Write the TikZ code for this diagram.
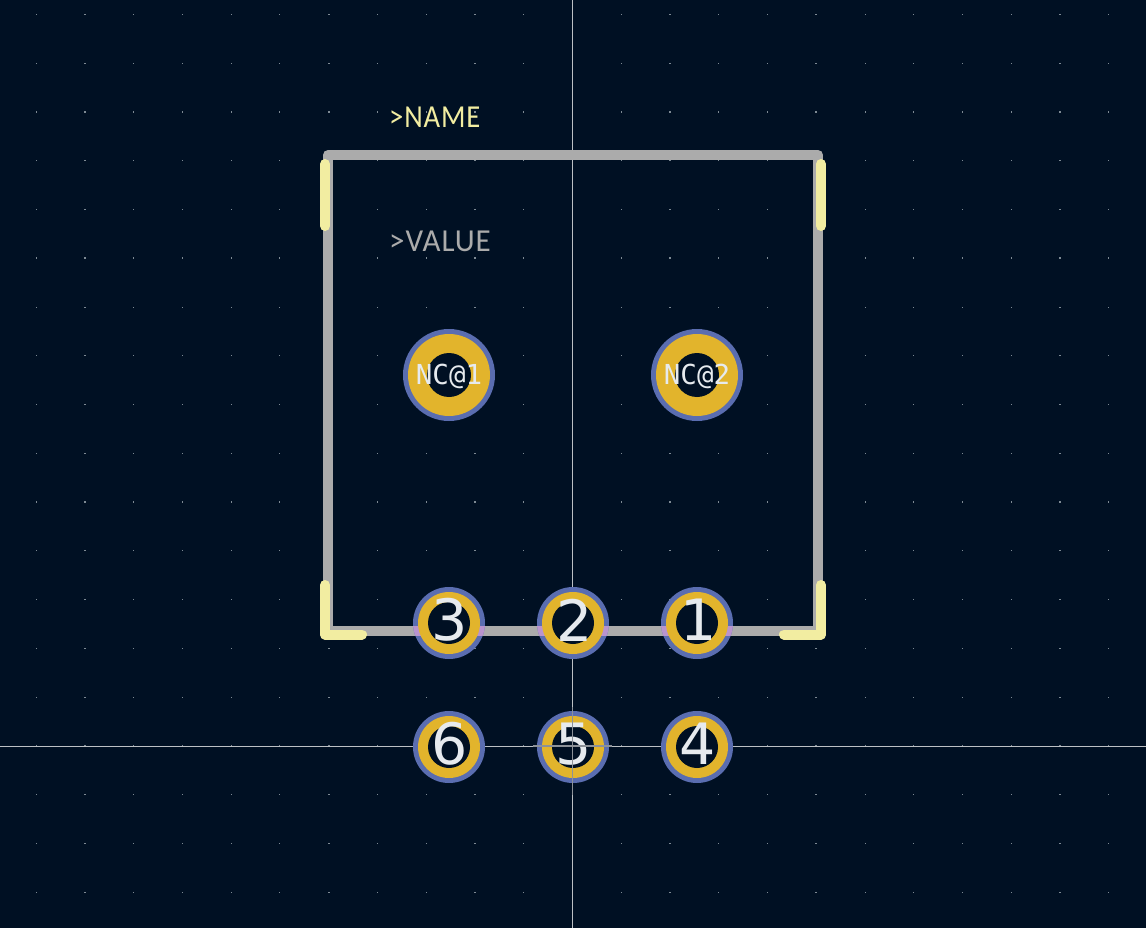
\documentclass[tikz,border=0pt]{standalone}
\usepackage{fontspec}
\setmainfont{DejaVu Sans}
\newfontfamily\monofont{DejaVu Sans Mono}
\newfontfamily\strokefont[LetterSpace=3]{Carlito}
\definecolor{bgc}{HTML}{001023}
\definecolor{gridc}{HTML}{7E8A94}
\definecolor{fabc}{HTML}{ABABAB}
\definecolor{silkc}{HTML}{F2EDA1}
\definecolor{ringc}{HTML}{5A6DB0}
\definecolor{goldc}{HTML}{E2B42C}
\definecolor{mixc}{HTML}{B994CE}
\definecolor{numc}{HTML}{E6EAEE}
\definecolor{crossc}{HTML}{BCC0C4}
\definecolor{originc}{HTML}{8C9198}
\tikzset{
  fabline/.style={draw=fabc,line width=10pt,line cap=round,line join=round},
  silkline/.style={draw=silkc,line width=10pt,line cap=round,line join=round},
  crossline/.style={draw=crossc,line width=1pt},
  originline/.style={draw=originc,line width=1.5pt},
  disc/.style={circle,inner sep=0pt,outer sep=0pt,minimum size=#1},
  padnum/.style={text=numc,font=\fontsize{57}{57}\selectfont,inner sep=0pt},
  padname/.style={text=numc,font=\monofont\fontsize{27.5}{27.5}\selectfont,inner sep=0pt},
  reftext/.style={font=\strokefont\fontsize{32}{32}\selectfont,inner sep=0pt,anchor=west,transform shape},
}
\newcommand{\bigpad}[4]{%
  \node[disc=92pt,fill=ringc] (#1o) at (#2,#3) {};
  \node[disc=82pt,fill=goldc] (#1g) at (#2,#3) {};
  \node[disc=44pt,fill=bgc] (#1h) at (#2,#3) {};
  \node[padname] (#1t) at (#2,#3+1) {#4};
}
\begin{document}
\begin{tikzpicture}[x=1pt,y=-1pt]
\useasboundingbox (0,0) rectangle (1146,928);
\fill[bgc] (0,0) rectangle (1146,928);
% grid
\foreach \i in {-11,...,11}{
  \foreach \j in {-15,...,3}{
    \pgfmathsetmacro{\gx}{572.5+48.76*\i}
    \pgfmathsetmacro{\gy}{746+48.77*\j}
    \pgfmathsetmacro{\wx}{mod(abs(\i),5)==0 ? 0.9 : 0.55}
    \pgfmathsetmacro{\wy}{mod(abs(\j),5)==0 ? 0.9 : 0.55}
    \fill[gridc] (\gx-\wx,\gy-\wy) rectangle (\gx+\wx,\gy+\wy);
  }
}
% crosshair
\coordinate (chT) at (572.5,0);
\coordinate (chB) at (572.5,928);
\coordinate (chL) at (0,746);
\coordinate (chR) at (1146,746);
\draw[crossline] (chT) -- (chB);
\draw[crossline] (chL) -- (chR);
% fabrication outline
\coordinate (fa) at (328,155);
\coordinate (fb) at (818,155);
\coordinate (fc) at (818,631);
\coordinate (fd) at (328,631);
\draw[fabline] (fa) -- (fb) -- (fc) -- (fd) -- cycle;
% silkscreen
\coordinate (s1) at (325,164);
\coordinate (s2) at (325,226);
\coordinate (s3) at (821,164);
\coordinate (s4) at (821,226);
\coordinate (s5) at (325,585);
\coordinate (s6) at (325,634.5);
\coordinate (s7) at (362,634.5);
\coordinate (s8) at (821,585);
\coordinate (s9) at (821,634.5);
\coordinate (s10) at (784,634.5);
\draw[silkline] (s1) -- (s2);
\draw[silkline] (s3) -- (s4);
\draw[silkline] (s5) -- (s6) -- (s7);
\draw[silkline] (s8) -- (s9) -- (s10);
% reference texts
\node[reftext,text=silkc,xscale=0.895] (nametext) at (389,117) {>NAME};
\node[reftext,text=fabc,xscale=0.97] (valuetext) at (389,241) {>VALUE};
% big pads
\bigpad{nca}{449}{375}{NC@1}
\bigpad{ncb}{697}{375}{NC@2}
% small pads
\foreach \nm/\px/\py in {p3/449/623,p2/573/623,p1/697/623,p6/449/747,p5/573/747,p4/697/747}{
  \node[disc=72pt,fill=ringc] (\nm o) at (\px,\py) {};
}
\begin{scope}
  \clip (449,623) circle (36) (573,623) circle (36) (697,623) circle (36);
  \fill[mixc] (400,626) rectangle (740,636);
\end{scope}
\foreach \nm/\px/\py in {p3/449/623,p2/573/623,p1/697/623,p6/449/747,p5/573/747,p4/697/747}{
  \node[disc=62pt,fill=goldc] (\nm g) at (\px,\py) {};
  \node[disc=42pt,fill=bgc] (\nm h) at (\px,\py) {};
}
% pad numbers
\node[padnum] (n3) at (449.5,620) {3};
\node[padnum] (n2) at (574.5,620) {2};
\node[padnum] (n1) at (698.5,620) {1};
\node[padnum] (n6) at (449.5,744) {6};
\node[padnum] (n5) at (573.5,744) {5};
\node[padnum] (n4) at (697.5,744) {4};
% origin marker
\coordinate (oT) at (572.5,707);
\coordinate (oB) at (572.5,795);
\coordinate (oL) at (533,746);
\coordinate (oR) at (612,746);
\draw[originline] (oT) -- (oB);
\draw[originline] (oL) -- (oR);
\end{tikzpicture}
\end{document}
